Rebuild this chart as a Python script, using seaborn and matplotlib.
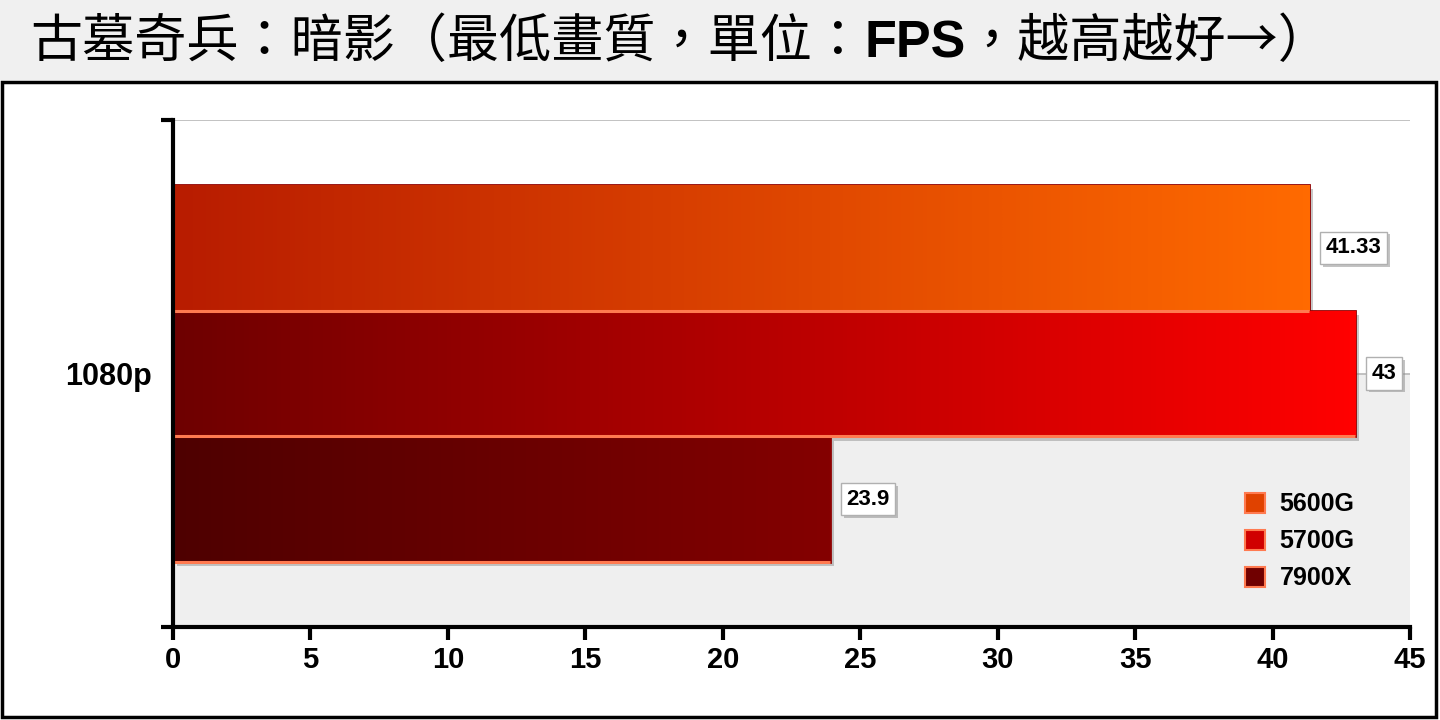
import numpy as np
import pandas as pd
import matplotlib
matplotlib.use("Agg")
import matplotlib.pyplot as plt
import matplotlib.patheffects as pe
from matplotlib.colors import LinearSegmentedColormap
from matplotlib.patches import Rectangle
from matplotlib.lines import Line2D
import seaborn as sns

# data
resolutions = ["1080p"]
cpus = ["5600G", "5700G", "7900X"]
fps = [41.33, 43, 23.9]
x_ticks = [0, 5, 10, 15, 20, 25, 30, 35, 40, 45]

# colours (gradient left -> right for every bar)
grad_left = ["#b81c00", "#6e0000", "#4e0000"]
grad_right = ["#ff6a00", "#ff0000", "#840000"]
mid_colors = ["#e04200", "#d00000", "#700000"]

title_parts = [("古墓奇兵：暗影（最低畫質，單位：", "normal"),
               ("FPS", "bold"),
               ("，越高越好→）", "normal")]

sns.set_theme(style="white")
plt.rcParams["font.family"] = ["Liberation Sans", "Noto Sans CJK TC", "DejaVu Sans"]

df = pd.DataFrame({"res": resolutions * len(cpus), "cpu": cpus, "fps": fps})

fig = plt.figure(figsize=(14.4, 7.2), dpi=100)
fig.patch.set_facecolor("white")
# title band + framed chart box (behind the axes)
fig.patches.append(Rectangle((0, 1 - 80 / 720), 1, 80 / 720, transform=fig.transFigure,
                             fc="#f0f0f0", ec="none", zorder=-2))
fig.patches.append(Rectangle((2 / 1440, 3 / 720), 1434 / 1440, 635 / 720, transform=fig.transFigure,
                             fc="white", ec="black", lw=2.5, zorder=-1))

ax = fig.add_axes([173 / 1440, 1 - 627 / 720, 1237 / 1440, 507 / 720])
ax.set_zorder(1)
ax.set_facecolor("white")

sns.barplot(data=df, x="fps", y="res", hue="cpu", orient="h", palette=mid_colors,
            width=0.744, saturation=1, legend=False, ax=ax)

# background band and grid lines
ax.axhspan(0, 0.5, fc="#efefef", ec="none", zorder=0.2)
ax.axhline(-0.5, color="#b8b8b8", lw=1.2, zorder=0.5)
ax.axhline(0, color="#b8b8b8", lw=1.2, zorder=0.5)

shadow = [pe.SimplePatchShadow(offset=(3, -3), shadow_rgbFace="#777777", alpha=0.4), pe.Normal()]
grad = np.linspace(0, 1, 256).reshape(1, -1)
for i, cont in enumerate(ax.containers):
    for bar in cont:
        x0, y0, w, h = bar.get_x(), bar.get_y(), bar.get_width(), bar.get_height()
        bar.set_zorder(1.5)
        bar.set_edgecolor("#8e0000")
        bar.set_linewidth(2)
        bar.set_path_effects(shadow)
        cmap = LinearSegmentedColormap.from_list(f"g{i}", [grad_left[i], grad_right[i]])
        im = ax.imshow(grad, cmap=cmap, aspect="auto", extent=(x0, x0 + w, y0 + h, y0),
                       zorder=2, interpolation="bilinear")
        im.set_clip_path(bar)
        # light left and bottom edges
        ax.plot([x0, x0], [y0, y0 + h], color="#ff8a5c", lw=2.2, zorder=3, solid_capstyle="butt")
        ax.plot([x0, x0 + w], [y0 + h, y0 + h], color="#ff7a50", lw=2.2, zorder=3, solid_capstyle="butt")
        # value label
        t = ax.text(x0 + w + 0.6, y0 + h / 2, f"{fps[i]:g}", ha="left", va="center",
                    fontsize=16, fontweight="bold", color="black", zorder=4,
                    bbox=dict(boxstyle="square,pad=0.25", fc="white", ec="#b0b0b0", lw=1))
        t.get_bbox_patch().set_path_effects(
            [pe.SimplePatchShadow(offset=(2, -2), shadow_rgbFace="#888888", alpha=0.5), pe.Normal()])

ax.set_xlim(0, 45)
ax.set_ylim(0.5, -0.5)
ax.set_xticks(x_ticks)
ax.set_xlabel("")
ax.set_ylabel("")

for s in ["top", "right"]:
    ax.spines[s].set_visible(False)
for s in ["left", "bottom"]:
    ax.spines[s].set_color("black")
    ax.spines[s].set_linewidth(3)
    ax.spines[s].set_zorder(5)

ax.tick_params(axis="x", length=9, width=3, direction="out", color="black", pad=5,
               labelsize=21, labelcolor="black", bottom=True)
ax.tick_params(axis="y", which="major", length=0, pad=15, labelsize=22, labelcolor="black")
ax.set_yticks([-0.5, 0.5], minor=True)
ax.tick_params(axis="y", which="minor", length=9, width=3, direction="out", color="black", left=True)
for lbl in ax.get_xticklabels() + ax.get_yticklabels():
    lbl.set_fontweight("bold")

handles = [Line2D([], [], marker="s", ls="none", markersize=14, markerfacecolor=mid_colors[i],
                  markeredgecolor="#ff7a50", markeredgewidth=1.5) for i in range(len(cpus))]
ax.legend(handles, cpus, loc="upper left", bbox_to_anchor=(0.846, 0.31), frameon=False,
          prop=dict(weight="bold", size=18), handletextpad=0.5, labelspacing=0.52, handlelength=1.0,
          labelcolor="black")

# title, drawn in pieces so that FPS is bold
renderer = fig.canvas.get_renderer()
x = 30 / 1440
for text, weight in title_parts:
    fam = ["Noto Sans CJK TC", "DejaVu Sans"] if weight == "normal" else ["Liberation Sans", "DejaVu Sans"]
    t = fig.text(x, 1 - 57 / 720, text, fontsize=37.5, fontweight=weight, family=fam,
                 va="baseline", ha="left", color="black")
    bb = t.get_window_extent(renderer)
    x = bb.x1 / fig.bbox.width

fig.savefig("out.png", dpi=100)
